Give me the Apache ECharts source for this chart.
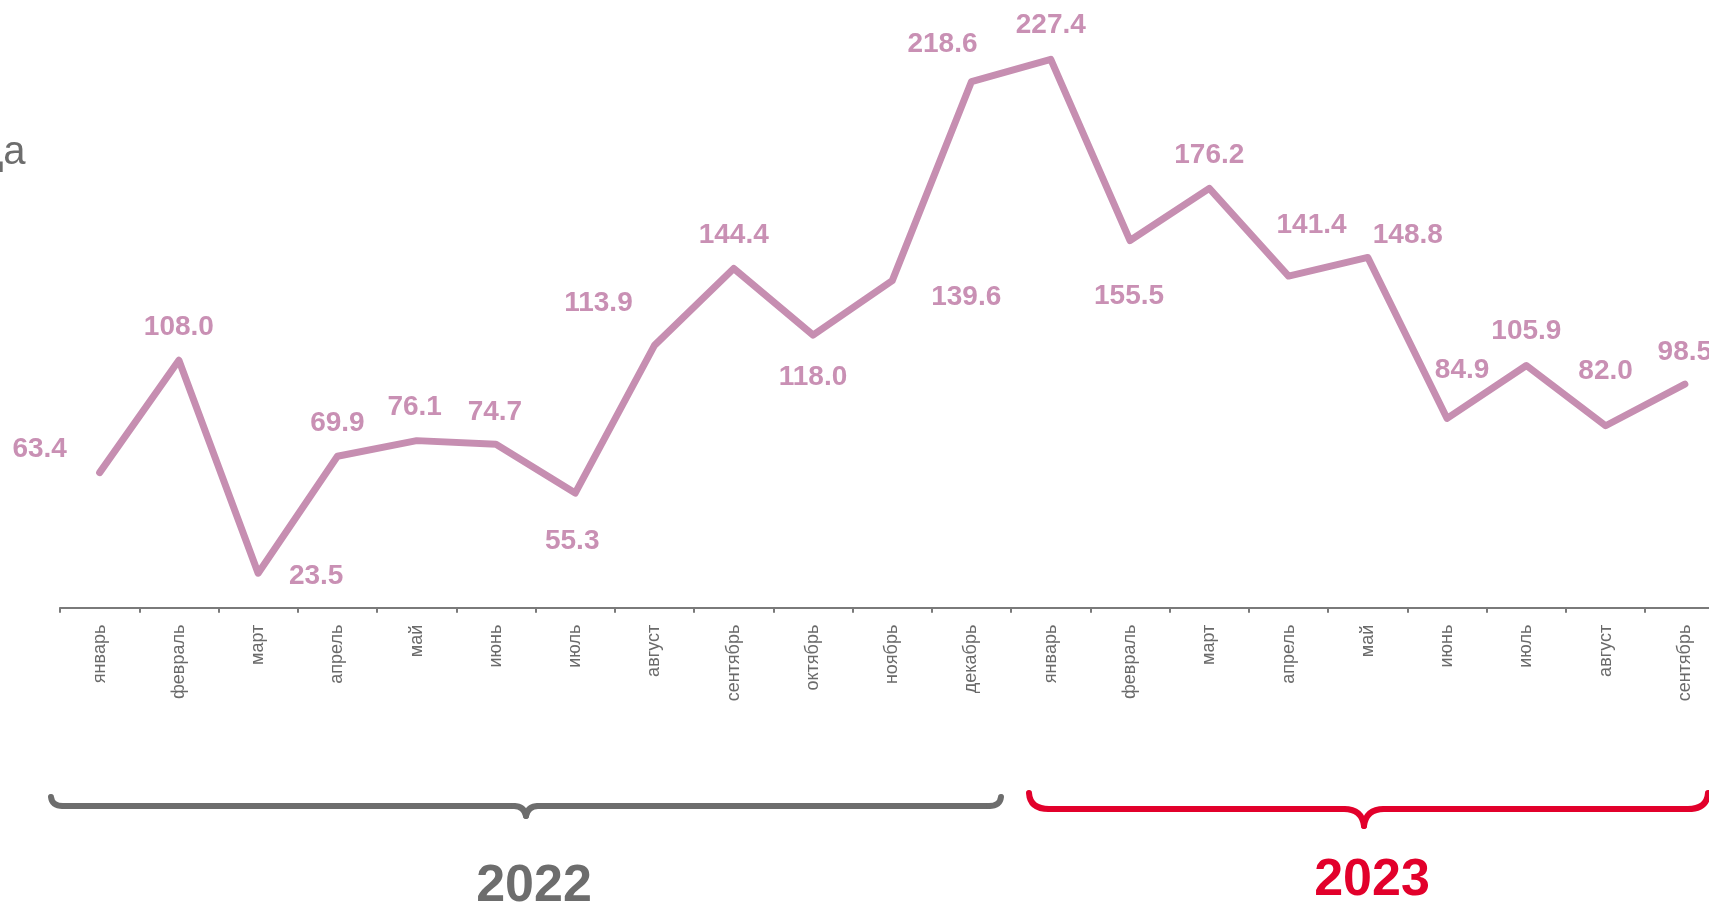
<!DOCTYPE html>
<html>
<head>
<meta charset="utf-8">
<script src="https://cdn.jsdelivr.net/npm/echarts@6/dist/echarts.min.js"></script>
<style>
  html, body { margin: 0; padding: 0; background: #fff; }
  #main { width: 1709px; height: 906px; }
</style>
</head>
<body>
<div id="main"></div>
<script>
// месяцы: 2022 январь - 2023 сентябрь
var months = ['январь', 'февраль', 'март', 'апрель', 'май', 'июнь', 'июль', 'август',
  'сентябрь', 'октябрь', 'ноябрь', 'декабрь',
  'январь', 'февраль', 'март', 'апрель', 'май', 'июнь', 'июль', 'август', 'сентябрь'];
var values = [63.4, 108.0, 23.5, 69.9, 76.1, 74.7, 55.3, 113.9, 144.4, 118.0, 139.6, 218.6,
  227.4, 155.5, 176.2, 141.4, 148.8, 84.9, 105.9, 82.0, 98.5];
var years = ['2022', '2023'];

// where each value label sits relative to its point (px)
var labelOffsets = [[-60, -23], [0, -33], [58, 3], [0, -33], [-2, -33], [-1, -32], [-3, 48],
  [-56, -42], [0, -33], [0, 42], [74, 17], [-29, -37], [0, -34], [-1, 56], [0, -33],
  [23, -51], [40, -22], [15, -48], [0, -34], [0, -54], [0, -32]];

var lineColor = '#c68eb1';
var grey = '#6d6d6d';
var red = '#e2002b';

var myChart = echarts.init(document.getElementById('main'));

var seriesData = values.map(function (v, i) {
  return {
    value: v,
    label: { offset: labelOffsets[i] }
  };
});

// curly brace under a year: x0..x1 ends, y line, tip at (xm, yTip), r = hook size
function brace(x0, x1, xm, yEnd, y, yTip, r, color) {
  var st = { stroke: color, lineWidth: 6, fill: null, lineCap: 'round' };
  function bz(a, b, c, d, e, f) {
    return { type: 'bezierCurve', shape: { x1: a, y1: b, cpx1: c, cpy1: d, x2: e, y2: f }, style: st };
  }
  function ln(a, b, c, d) {
    return { type: 'line', shape: { x1: a, y1: b, x2: c, y2: d }, style: st };
  }
  return [
    bz(x0, yEnd, x0 + 1, y, x0 + r, y),
    ln(x0 + r, y, xm - r, y),
    bz(xm - r, y, xm - 2, y, xm, yTip),
    bz(xm, yTip, xm + 2, y, xm + r, y),
    ln(xm + r, y, x1 - r, y),
    bz(x1 - r, y, x1 - 1, y, x1, yEnd)
  ];
}

var graphics = [
  {
    type: 'text',
    x: -20, y: 153,
    style: { text: 'да', fill: grey, fontSize: 40, fontFamily: 'Liberation Sans', verticalAlign: 'middle' }
  },
  {
    type: 'text',
    x: 534, y: 887,
    style: {
      text: years[0], fill: grey, fontSize: 52, fontWeight: 'bold',
      fontFamily: 'Liberation Sans', align: 'center', verticalAlign: 'middle'
    }
  },
  {
    type: 'text',
    x: 1372, y: 881,
    style: {
      text: years[1], fill: red, fontSize: 52, fontWeight: 'bold',
      fontFamily: 'Liberation Sans', align: 'center', verticalAlign: 'middle'
    }
  }
].concat(brace(51, 1001, 526, 797, 806, 816, 12, grey))
 .concat(brace(1029, 1708, 1364, 793, 809, 826, 20, red));

myChart.setOption({
  animation: false,
  grid: { left: 60, width: 1664.5, top: 15, bottom: 298.3, outerBoundsMode: 'none', containLabel: false },
  xAxis: {
    type: 'category',
    data: months,
    boundaryGap: true,
    axisLine: { lineStyle: { color: '#7a7a7a', width: 2 } },
    axisTick: { show: true, length: 5, lineStyle: { color: '#7a7a7a', width: 2 } },
    axisLabel: {
      rotate: 90,
      margin: 17,
      interval: 0,
      color: '#6a6a6a',
      fontSize: 18,
      fontFamily: 'Liberation Sans'
    }
  },
  yAxis: {
    type: 'value',
    min: 9.8,
    max: 245,
    show: false,
    splitLine: { show: false }
  },
  series: [{
    type: 'line',
    data: seriesData,
    symbol: 'circle',
    symbolSize: 1,
    itemStyle: { color: lineColor },
    lineStyle: { color: lineColor, width: 7, cap: 'round', join: 'round' },
    label: {
      show: true,
      position: 'inside',
      formatter: function (p) { return p.value.toFixed(1); },
      color: '#c990b4',
      fontSize: 28,
      fontWeight: 'bold',
      fontFamily: 'Liberation Sans'
    }
  }],
  graphic: graphics
});
</script>
</body>
</html>
